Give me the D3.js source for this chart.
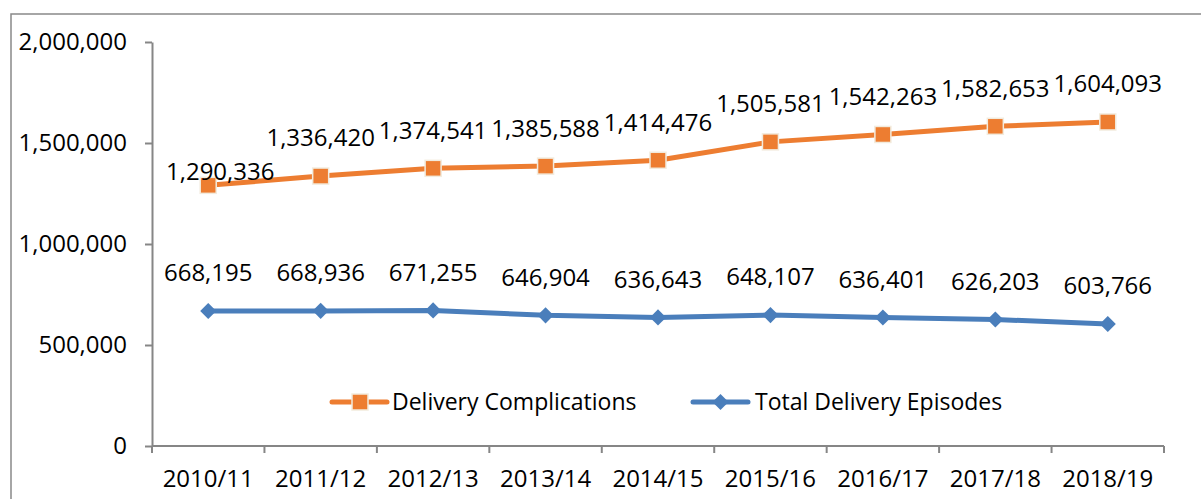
<!DOCTYPE html>
<html>
<head>
<meta charset="utf-8">
<script src="https://cdn.jsdelivr.net/npm/d3@7"></script>
<style>
  html, body { margin: 0; padding: 0; background: #fff; }
  svg { display: block; }
</style>
</head>
<body>
<div id="chart"></div>
<script>
// data
const years = ["2010/11", "2011/12", "2012/13", "2013/14", "2014/15", "2015/16", "2016/17", "2017/18", "2018/19"];
const complications = [1290336, 1336420, 1374541, 1385588, 1414476, 1505581, 1542263, 1582653, 1604093];
const episodes = [668195, 668936, 671255, 646904, 636643, 648107, 636401, 626203, 603766];
const yTicks = [0, 500000, 1000000, 1500000, 2000000];
const seriesNames = ["Delivery Complications", "Total Delivery Episodes"];

const width = 1201, height = 499;
const margin = {top: 42, right: 37, bottom: 53, left: 152};
const font = "Open Sans, sans-serif";
const fontSize = 24;     // numbers
const legendSize = 23;
const orange = "#ED7D31", blue = "#4A7EBB", axisGray = "#868686";

const svg = d3.select("#chart").append("svg")
  .attr("width", width)
  .attr("height", height)
  .style("font-family", font);

// outer chart frame (runs off the right and bottom edge)
svg.append("rect")
  .attr("x", 11).attr("y", 14)
  .attr("width", width).attr("height", height)
  .attr("fill", "none")
  .attr("stroke", "#898989")
  .attr("stroke-width", 1.5);

const x = d3.scaleBand()
  .domain(years)
  .range([margin.left, width - margin.right])
  .padding(0);

const y = d3.scaleLinear()
  .domain([0, 2000000])
  .range([height - margin.bottom, margin.top]);

const cx = d => x(d) + x.bandwidth() / 2;
const fmt = d3.format(",");

// y axis
svg.append("g")
  .attr("transform", `translate(${margin.left},0)`)
  .call(d3.axisLeft(y).tickValues(yTicks).tickFormat(fmt).tickSize(7).tickPadding(18).tickSizeOuter(0))
  .call(g => g.selectAll("path, line").attr("stroke", axisGray).attr("stroke-width", 2))
  .call(g => g.selectAll("text")
    .attr("font-family", font)
    .attr("font-size", fontSize)
    .attr("fill", "#000"));

// x axis: line + ticks on category boundaries, labels in the middle
const xg = svg.append("g")
  .attr("transform", `translate(0,${y(0)})`);

xg.append("line")
  .attr("x1", x.range()[0]).attr("x2", x.range()[1])
  .attr("stroke", axisGray).attr("stroke-width", 2);

xg.selectAll(".bt")
  .data(d3.range(years.length + 1))
  .join("line")
  .attr("class", "bt")
  .attr("x1", i => x.range()[0] + i * x.step())
  .attr("x2", i => x.range()[0] + i * x.step())
  .attr("y1", 0).attr("y2", 7)
  .attr("stroke", axisGray).attr("stroke-width", 2);

xg.selectAll(".xl")
  .data(years)
  .join("text")
  .attr("class", "xl")
  .attr("x", cx)
  .attr("y", 33)
  .attr("dy", "0.35em")
  .attr("text-anchor", "middle")
  .attr("font-size", fontSize)
  .text(d => d);

const line = d3.line()
  .x((d, i) => cx(years[i]))
  .y(d => y(d));

// orange series
svg.append("path")
  .datum(complications)
  .attr("fill", "none")
  .attr("stroke", orange)
  .attr("stroke-width", 5)
  .attr("stroke-linejoin", "round")
  .attr("d", line);

svg.selectAll(".sq")
  .data(complications)
  .join("rect")
  .attr("class", "sq")
  .attr("x", (d, i) => cx(years[i]) - 8)
  .attr("y", d => y(d) - 8)
  .attr("width", 16).attr("height", 16)
  .attr("fill", orange)
  .attr("stroke", "#F2EBDD")
  .attr("stroke-width", 1.5);

// blue series
svg.append("path")
  .datum(episodes)
  .attr("fill", "none")
  .attr("stroke", blue)
  .attr("stroke-width", 5)
  .attr("stroke-linejoin", "round")
  .attr("d", line);

const diamond = d3.symbol().type(d3.symbolSquare).size(130);
svg.selectAll(".dm")
  .data(episodes)
  .join("path")
  .attr("class", "dm")
  .attr("transform", (d, i) => `translate(${cx(years[i])},${y(d)}) rotate(45)`)
  .attr("d", diamond)
  .attr("fill", blue);

// data labels
svg.selectAll(".lc")
  .data(complications)
  .join("text")
  .attr("class", "lc")
  // first label was nudged down/right in the original
  .attr("x", (d, i) => cx(years[i]) + (i === 0 ? 12 : 0))
  .attr("y", (d, i) => y(d) - (i === 0 ? 14 : 38))
  .attr("dy", "0.35em")
  .attr("text-anchor", "middle")
  .attr("font-size", fontSize)
  .text(fmt);

svg.selectAll(".le")
  .data(episodes)
  .join("text")
  .attr("class", "le")
  .attr("x", (d, i) => cx(years[i]))
  .attr("y", d => y(d) - 38)
  .attr("dy", "0.35em")
  .attr("text-anchor", "middle")
  .attr("font-size", fontSize)
  .text(fmt);

// legend
const legend = svg.append("g").attr("transform", "translate(0,402)");
const lg = legend.selectAll("g")
  .data(seriesNames)
  .join("g")
  .attr("transform", (d, i) => `translate(${i === 0 ? 332 : 693},0)`);

lg.append("line")
  .attr("x1", 0).attr("x2", 55)
  .attr("stroke", (d, i) => i === 0 ? orange : blue)
  .attr("stroke-width", 5)
  .attr("stroke-linecap", "round");

lg.filter((d, i) => i === 0).append("rect")
  .attr("x", 20).attr("y", -8)
  .attr("width", 16).attr("height", 16)
  .attr("fill", orange)
  .attr("stroke", "#F2EBDD")
  .attr("stroke-width", 1.5);

lg.filter((d, i) => i === 1).append("path")
  .attr("transform", "translate(27.5,0) rotate(45)")
  .attr("d", diamond)
  .attr("fill", blue);

lg.append("text")
  .attr("x", (d, i) => i === 0 ? 60 : 62)
  .attr("dy", "0.35em")
  .attr("font-size", legendSize)
  .text(d => d);
</script>
</body>
</html>
